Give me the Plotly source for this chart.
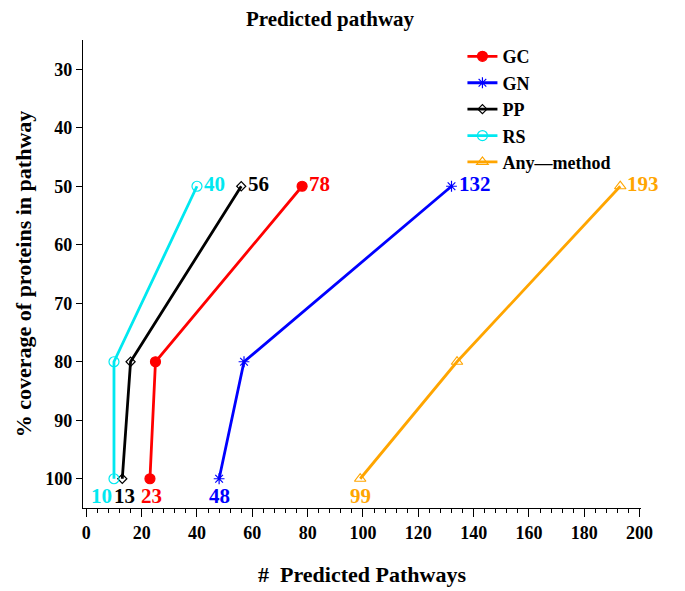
import plotly.graph_objects as go

coverage = [100, 80, 50]
series_names = ["GC", "GN", "PP", "RS", "Any\u2014method"]
gc = [23, 25, 78]
gn = [48, 57, 132]
pp = [13, 16, 56]
rs = [10, 10, 40]
anym = [99, 134, 193]

colors = ["#ff0000", "#0000ff", "#000000", "#00e8f0", "#ffa500"]
symbols = ["circle", "asterisk-open", "diamond-open", "circle-open", "triangle-up-open"]
msizes = [10, 9, 7, 10, 10]
series = [gc, gn, pp, rs, anym]

FONT = "Liberation Serif"

fig = go.Figure()
for name, vals, c, s, ms in zip(series_names, series, colors, symbols, msizes):
    fig.add_trace(go.Scatter(
        x=vals, y=coverage, mode="lines+markers", name="<b>" + name + "</b>",
        line=dict(color=c, width=2.8),
        marker=dict(symbol=s, size=ms, color=c, line=dict(color=c, width=1.2)),
    ))

# value labels at 100% (below points) and 50% (right of points)
bottom_shift = [2, 0, 2, -12, 0]
for vals, c, dx in zip(series, colors, bottom_shift):
    fig.add_annotation(x=vals[0], y=coverage[0], text="<b>" + str(vals[0]) + "</b>", showarrow=False,
                       xanchor="center", yanchor="top", yshift=-3, xshift=dx,
                       font=dict(family=FONT, size=21, color=c))
    fig.add_annotation(x=vals[2], y=coverage[2], text="<b>" + str(vals[2]) + "</b>", showarrow=False,
                       xanchor="left", yanchor="middle", xshift=5, yshift=2,
                       font=dict(family=FONT, size=21, color=c))

# page has an 8px body margin: figure is sized/offset to compensate
fig.update_layout(
    width=677, height=583,
    margin=dict(l=75, r=44, t=32, b=83),
    paper_bgcolor="white", plot_bgcolor="white",
    font=dict(family=FONT, color="black"),
    title=dict(text="<b>Predicted pathway</b>", x=322/677, xanchor="center",
               y=1 - 11/583, yanchor="middle", font=dict(family=FONT, size=21)),
    showlegend=True,
    legend=dict(x=0.68, y=1.004, xanchor="left", yanchor="top",
                bgcolor="rgba(0,0,0,0)", font=dict(family=FONT, size=18, color="black"),
                itemwidth=30),
    xaxis=dict(range=[-1.2, 200.5], tickmode="linear", tick0=0, dtick=20,
               ticks="outside", ticklen=8, tickwidth=1.2, tickcolor="black",
               minor=dict(dtick=4, ticks="outside", ticklen=4, tickcolor="black", tickwidth=1),
               showline=True, linecolor="black", linewidth=1.2,
               showgrid=False, zeroline=False, automargin=False,
               tickprefix="<b>", ticksuffix="</b>",
               tickfont=dict(family=FONT, size=18, color="black"),
               title=dict(text="<b>#  Predicted Pathways</b>", standoff=24,
                          font=dict(family=FONT, size=22))),
    yaxis=dict(range=[105, 25], tickmode="linear", tick0=30, dtick=10,
               ticks="outside", ticklen=6, tickwidth=1.2, tickcolor="black",
               showline=True, linecolor="black", linewidth=1.2,
               showgrid=False, zeroline=False, automargin=False,
               tickprefix="<b>", ticksuffix="</b>",
               tickfont=dict(family=FONT, size=18, color="black"),
               title=dict(text="<b>% coverage of proteins in pathway</b>", standoff=7,
                          font=dict(family=FONT, size=22))),
)

fig.write_html("out.html")
